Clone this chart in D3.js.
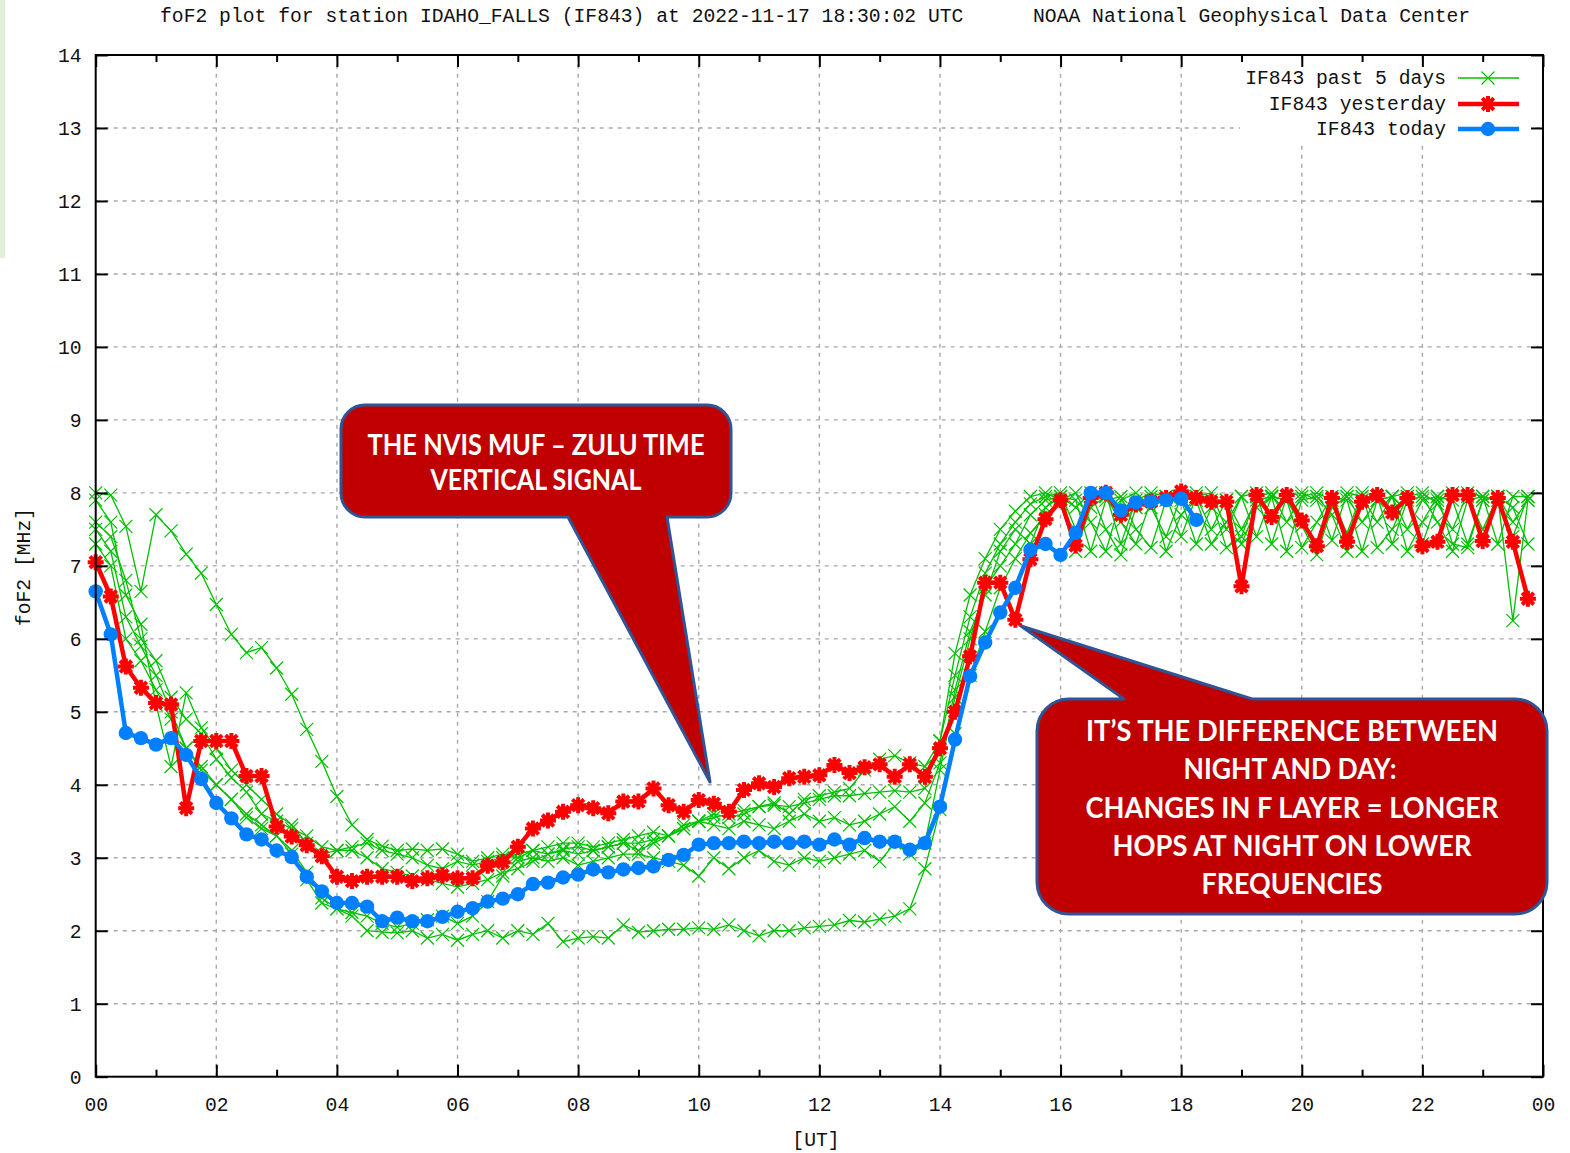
<!DOCTYPE html>
<html><head><meta charset="utf-8">
<script src="https://cdn.jsdelivr.net/npm/d3@7"></script>
<style>body{margin:0;background:#fff;overflow:hidden}</style>
</head><body>
<svg id="c" width="1570" height="1153"></svg>
<script>
// ---------- DATA (15-minute samples, hour = index * 0.25) ----------
const stepHours = 0.25;
const xTickLabels = ["00","02","04","06","08","10","12","14","16","18","20","22","00"];
const xTickHours = [0,2,4,6,8,10,12,14,16,18,20,22,24];
const yTickValues = [0,1,2,3,4,5,6,7,8,9,10,11,12,13,14];
const titleLeft = "foF2 plot for station IDAHO_FALLS (IF843) at 2022-11-17 18:30:02 UTC";
const titleRight = "NOAA National Geophysical Data Center";
const seriesNames = ["IF843 past 5 days","IF843 yesterday","IF843 today"];

const today = [
 6.65,6.06,4.71,4.64, 4.55,4.64,4.41,4.08, 3.75,3.54,3.32,3.25, 3.10,3.01,2.74,2.54,
 2.38,2.38,2.33,2.13, 2.18,2.13,2.13,2.19, 2.26,2.31,2.40,2.44, 2.50,2.64,2.66,2.73,
 2.77,2.84,2.80,2.84, 2.86,2.88,2.97,3.04, 3.18,3.20,3.20,3.22, 3.20,3.22,3.20,3.22,
 3.18,3.25,3.18,3.27, 3.22,3.22,3.11,3.20, 3.70,4.62,5.49,5.95, 6.36,6.70,7.22,7.30,
 7.15,7.45,8.00,8.00, 7.76,7.87,7.88,7.90, 7.92,7.63
];
const yesterday = [
 7.05,6.58,5.62,5.33, 5.12,5.10,3.68,4.60, 4.60,4.60,4.12,4.12, 3.43,3.29,3.17,3.02,
 2.74,2.68,2.74,2.74, 2.74,2.68,2.72,2.76, 2.72,2.72,2.89,2.94, 3.15,3.40,3.51,3.63,
 3.72,3.68,3.61,3.77, 3.77,3.95,3.72,3.63, 3.79,3.74,3.63,3.93, 4.02,3.97,4.09,4.11,
 4.13,4.27,4.16,4.24, 4.28,4.11,4.28,4.11, 4.50,5.00,5.76,6.77, 6.77,6.26,7.09,7.64,
 7.90,7.28,7.93,8.00, 7.70,7.84,7.88,7.93, 8.02,7.93,7.88,7.88, 6.72,7.97,7.67,7.97,
 7.62,7.27,7.93,7.33, 7.88,7.97,7.73,7.93, 7.27,7.33,7.97,7.97, 7.34,7.93,7.33,6.55
];
const pastDay1 = [
 8.00,7.97,7.54,6.65, 7.70,7.48,7.16,6.90, 6.47,6.06,5.81,5.88, 5.60,5.24,4.76,4.32,
 3.84,3.45,3.25,3.16, 3.10,3.12,3.10,3.12, 3.05,2.95,3.00,3.05, 3.00,3.10,3.05,3.12,
 3.15,3.10,3.15,3.20, 3.20,3.25,3.30,3.40, 3.50,3.55,3.60,3.65, 3.70,3.72,3.70,3.75,
 3.80,3.85,3.85,3.88, 3.90,3.92,3.90,3.95, 4.60,5.50,6.30,6.90, 7.30,7.60,7.85,7.95,
 8.00,7.50,7.95,8.00, 7.30,7.90,8.00,7.95, 7.40,7.95,8.00,7.50, 7.95,8.00,7.30,7.95,
 8.00,7.90,7.35,8.00, 7.95,7.60,7.95,8.00, 7.30,7.90,8.00,7.95, 7.50,7.95,6.25,7.90
];
const pastDay2 = [
 7.30,7.00,6.00,5.70, 5.30,4.90,4.50,4.25, 4.00,3.80,3.60,3.45, 3.30,3.05,2.70,2.38,
 2.30,2.20,2.00,1.98, 1.97,2.00,1.90,1.95, 1.87,1.95,2.00,1.90, 2.00,1.95,2.10,1.85,
 1.90,1.92,1.90,2.08, 1.98,2.00,2.02,2.02, 2.04,2.02,2.08,2.00, 1.93,2.00,2.00,2.04,
 2.06,2.08,2.14,2.12, 2.16,2.20,2.30,2.85, 3.66,4.70,5.50,6.10, 6.70,7.10,7.45,7.70,
 7.85,7.20,7.80,7.95, 7.60,7.30,7.90,7.95, 7.90,7.30,7.80,7.90, 7.50,7.90,7.95,7.20,
 7.90,7.95,7.70,7.20, 7.90,7.95,7.30,7.90, 7.95,7.60,7.20,7.90, 7.95,7.90,7.40,7.95
];
const pastDay3 = [
 7.50,7.20,6.30,5.90, 5.50,5.00,4.50,4.20, 4.00,3.80,3.55,3.40, 3.30,3.10,2.80,2.45,
 2.30,2.25,2.20,2.10, 2.05,2.10,2.15,2.20, 2.10,2.20,2.40,2.75, 2.95,3.00,2.95,3.00,
 2.90,2.95,3.00,3.05, 3.05,3.00,2.95,2.90, 2.75,3.00,2.85,3.00, 3.10,2.95,2.90,3.00,
 2.95,3.00,3.05,3.10, 2.95,3.20,3.05,3.20, 4.20,5.20,6.00,6.70, 7.00,7.30,7.70,7.90,
 7.95,7.90,7.20,7.90, 7.95,7.50,7.25,7.90, 7.95,7.90,7.30,7.60, 7.95,7.40,7.95,7.90,
 7.25,7.60,7.95,7.90, 7.20,7.90,7.95,7.50, 7.90,7.95,7.30,7.25, 7.90,7.95,7.80,7.30
];
const pastDay4 = [
 7.60,7.40,6.80,6.00, 5.70,5.20,4.90,4.70, 4.35,4.10,3.90,3.60, 3.50,3.40,3.30,3.15,
 3.10,3.15,3.20,3.10, 3.05,3.00,2.90,2.85, 2.95,2.90,2.95,3.00, 3.05,3.10,3.15,3.20,
 3.20,3.15,3.20,3.25, 3.30,3.35,3.30,3.45, 3.50,3.60,3.55,3.60, 3.70,3.75,3.60,3.80,
 3.85,3.90,3.95,4.20, 4.35,4.40,4.30,4.25, 4.60,5.80,6.60,7.10, 7.50,7.75,7.95,8.00,
 7.90,8.00,7.60,7.20, 7.90,8.00,7.80,7.40, 7.95,8.00,7.90,7.25, 7.40,7.95,8.00,7.60,
 7.95,8.00,7.90,7.45, 8.00,7.25,7.50,7.95, 8.00,7.85,7.50,8.00, 7.95,7.30,7.95,7.95
];
const pastDay5 = [
 7.90,7.60,6.60,6.20, 5.10,4.25,5.26,4.78, 4.50,4.20,4.00,3.80, 3.60,3.45,3.20,3.05,
 3.10,3.10,3.00,2.85, 2.80,2.75,2.70,2.65, 2.60,2.65,2.70,2.80, 2.85,2.95,3.05,3.10,
 3.05,3.10,3.15,3.20, 3.10,3.20,3.30,3.40, 3.50,3.45,3.40,3.50, 3.45,3.40,3.50,3.60,
 3.50,3.55,3.45,3.50, 3.60,3.70,3.50,3.75, 4.30,5.30,6.10,6.60, 7.20,7.50,7.30,7.80,
 7.95,7.80,8.00,7.50, 7.15,7.80,7.95,7.20, 7.70,7.95,7.50,7.90, 7.30,7.80,7.95,7.90,
 7.55,7.15,7.80,7.95, 7.60,7.90,7.95,7.20, 7.60,7.95,7.90,7.30, 7.90,7.95,7.60,7.90
];
const pastDays = [pastDay1, pastDay2, pastDay3, pastDay4, pastDay5];

// ---------- LAYOUT ----------
const svg = d3.select("#c");
const L = 95.7, R = 1543, T = 55, B = 1076.7;
const x = d3.scaleLinear().domain([0, 24]).range([L, R]);
const y = d3.scaleLinear().domain([0, 14]).range([B, T]);
const FONT = "'Liberation Mono', 'DejaVu Sans Mono', monospace";
const FS = 19.7;
const GREEN = "#00c000", RED = "#ff0000", BLUE = "#0080ff";

svg.append("rect").attr("width", 1570).attr("height", 1153).attr("fill", "#fff");
// pale green strip at the left edge
svg.append("rect").attr("x", 0).attr("y", 0).attr("width", 5).attr("height", 258).attr("fill", "#e2efda");

// grid
const grid = svg.append("g").attr("stroke", "#a8a8a8").attr("stroke-width", 1.4).attr("stroke-dasharray", "4,5");
grid.selectAll("line.v").data(d3.range(2, 24, 2)).join("line")
  .attr("x1", d => x(d)).attr("x2", d => x(d)).attr("y1", B).attr("y2", T);
grid.selectAll("line.h").data(d3.range(1, 14)).join("line")
  .attr("x1", L).attr("x2", R).attr("y1", d => y(d)).attr("y2", d => y(d));

// legend background (opaque key)
svg.append("rect").attr("x", 1240).attr("y", 64).attr("width", 292).attr("height", 78).attr("fill", "#fff");

// ---------- SERIES ----------
const toPts = arr => arr.map((v, i) => [i * stepHours, v]);
const line = d3.line().x(d => x(d[0])).y(d => y(d[1]));
const crossPath = "M-6.5,-6.5L6.5,6.5M-6.5,6.5L6.5,-6.5";
const starPath = "M-8,0H8M0,-8V8M-5.8,-5.8L5.8,5.8M-5.8,5.8L5.8,-5.8M-5,-3H5M-5,3H5M-3,-5V5M3,-5V5";

const gGreen = svg.append("g");
pastDays.forEach(arr => {
  const pts = toPts(arr);
  gGreen.append("path").attr("d", line(pts)).attr("fill", "none").attr("stroke", GREEN).attr("stroke-width", 1.3);
  gGreen.append("g").selectAll("path").data(pts).join("path")
    .attr("transform", d => `translate(${x(d[0])},${y(d[1])})`)
    .attr("d", crossPath).attr("stroke", GREEN).attr("stroke-width", 1.2).attr("fill", "none");
});

const redPts = toPts(yesterday);
const gRed = svg.append("g");
gRed.append("path").attr("d", line(redPts)).attr("fill", "none").attr("stroke", RED).attr("stroke-width", 4.5).attr("stroke-linejoin", "round");
gRed.selectAll("path.m").data(redPts).join("path").attr("class", "m")
  .attr("transform", d => `translate(${x(d[0])},${y(d[1])})`)
  .attr("d", starPath).attr("stroke", RED).attr("stroke-width", 4).attr("fill", "none");

const bluePts = toPts(today);
const gBlue = svg.append("g");
gBlue.append("path").attr("d", line(bluePts)).attr("fill", "none").attr("stroke", BLUE).attr("stroke-width", 4.5).attr("stroke-linejoin", "round");
gBlue.selectAll("circle").data(bluePts).join("circle")
  .attr("cx", d => x(d[0])).attr("cy", d => y(d[1])).attr("r", 7.2).attr("fill", BLUE);

// ---------- AXES ----------
function styleAxis(g) {
  g.select(".domain").remove();
  g.selectAll(".tick line").attr("stroke", "#000").attr("stroke-width", 2);
  g.selectAll("text").attr("font-family", FONT).attr("font-size", FS).attr("fill", "#111");
}
const labelOf = d3.scaleOrdinal().domain(xTickHours).range(xTickLabels);
svg.append("g").attr("transform", `translate(0,${B})`)
  .call(d3.axisBottom(x).tickValues(xTickHours).tickFormat(d => labelOf(d)).tickSizeInner(-12).tickSizeOuter(0).tickPadding(20))
  .call(styleAxis);
svg.append("g").attr("transform", `translate(0,${B})`)
  .call(d3.axisBottom(x).tickValues(d3.range(1, 24, 2)).tickFormat("").tickSizeInner(-7).tickSizeOuter(0))
  .call(styleAxis);
svg.append("g").attr("transform", `translate(0,${T})`)
  .call(d3.axisTop(x).tickValues(xTickHours).tickFormat("").tickSizeInner(-12).tickSizeOuter(0))
  .call(styleAxis);
svg.append("g").attr("transform", `translate(0,${T})`)
  .call(d3.axisTop(x).tickValues(d3.range(1, 24, 2)).tickFormat("").tickSizeInner(-7).tickSizeOuter(0))
  .call(styleAxis);
svg.append("g").attr("transform", `translate(${L},0)`)
  .call(d3.axisLeft(y).tickValues(yTickValues).tickFormat(d3.format("d")).tickSizeInner(-12).tickSizeOuter(0).tickPadding(14))
  .call(styleAxis);
svg.append("g").attr("transform", `translate(${R},0)`)
  .call(d3.axisRight(y).tickValues(yTickValues).tickFormat("").tickSizeInner(-12).tickSizeOuter(0))
  .call(styleAxis);

// frame
svg.append("rect").attr("x", L).attr("y", T).attr("width", R - L).attr("height", B - T)
  .attr("fill", "none").attr("stroke", "#000").attr("stroke-width", 2);

// titles
const txt = (s, px, py, anchor) => svg.append("text").text(s).attr("x", px).attr("y", py)
  .attr("font-family", FONT).attr("font-size", FS).attr("fill", "#111").attr("text-anchor", anchor || "start");
txt(titleLeft, 160, 22);
txt(titleRight, 1033, 22);
txt("[UT]", 816, 1146, "middle");
svg.append("text").text("foF2 [MHz]").attr("transform", "translate(30,567) rotate(-90)")
  .attr("font-family", FONT).attr("font-size", FS).attr("fill", "#111").attr("text-anchor", "middle");

// legend
const legY = [78, 104, 129];
seriesNames.forEach((n, i) => txt(n, 1446, legY[i] + 6, "end"));
svg.append("line").attr("x1", 1458).attr("x2", 1519).attr("y1", legY[0]).attr("y2", legY[0]).attr("stroke", GREEN).attr("stroke-width", 1.3);
svg.append("path").attr("transform", `translate(1488,${legY[0]})`).attr("d", crossPath).attr("stroke", GREEN).attr("stroke-width", 1.2);
svg.append("line").attr("x1", 1458).attr("x2", 1519).attr("y1", legY[1]).attr("y2", legY[1]).attr("stroke", RED).attr("stroke-width", 4.5);
svg.append("path").attr("transform", `translate(1488,${legY[1]})`).attr("d", starPath).attr("stroke", RED).attr("stroke-width", 4);
svg.append("line").attr("x1", 1458).attr("x2", 1519).attr("y1", legY[2]).attr("y2", legY[2]).attr("stroke", BLUE).attr("stroke-width", 4.5);
svg.append("circle").attr("cx", 1488).attr("cy", legY[2]).attr("r", 7.2).attr("fill", BLUE);

// ---------- CALLOUTS ----------
function calloutBottomTail(x0, y0, x1, y1, r, xa, xb, tx, ty) {
  return `M${x0 + r},${y0}H${x1 - r}A${r},${r} 0 0 1 ${x1},${y0 + r}V${y1 - r}A${r},${r} 0 0 1 ${x1 - r},${y1}` +
    `H${xb}L${tx},${ty}L${xa},${y1}H${x0 + r}A${r},${r} 0 0 1 ${x0},${y1 - r}V${y0 + r}A${r},${r} 0 0 1 ${x0 + r},${y0}Z`;
}
function calloutTopTail(x0, y0, x1, y1, r, xa, xb, tx, ty) {
  return `M${x0 + r},${y0}H${xa}L${tx},${ty}L${xb},${y0}H${x1 - r}A${r},${r} 0 0 1 ${x1},${y0 + r}V${y1 - r}A${r},${r} 0 0 1 ${x1 - r},${y1}` +
    `H${x0 + r}A${r},${r} 0 0 1 ${x0},${y1 - r}V${y0 + r}A${r},${r} 0 0 1 ${x0 + r},${y0}Z`;
}
const CFILL = "#c00000", CSTROKE = "#2f5597";
svg.append("path").attr("d", calloutBottomTail(341, 405, 731, 517, 24, 568, 667, 710, 782))
  .attr("fill", CFILL).attr("stroke", CSTROKE).attr("stroke-width", 3).attr("stroke-linejoin", "round");
svg.append("path").attr("d", calloutTopTail(1037, 699, 1547, 914, 32, 1124, 1252, 1021, 626))
  .attr("fill", CFILL).attr("stroke", CSTROKE).attr("stroke-width", 3).attr("stroke-linejoin", "round");

const CFONT = "Lato, 'Open Sans', sans-serif";
function ctext(s, cx, cy, w) {
  svg.append("text").text(s).attr("x", cx).attr("y", cy + 10)
    .attr("text-anchor", "middle").attr("font-family", CFONT).attr("font-weight", 700)
    .attr("font-size", 28).attr("fill", "#fff")
    .attr("textLength", w).attr("lengthAdjust", "spacingAndGlyphs");
}
ctext("THE NVIS MUF \u2013 ZULU TIME", 536, 445, 337);
ctext("VERTICAL SIGNAL", 536, 480, 211);
ctext("IT\u2019S THE DIFFERENCE BETWEEN", 1292, 731, 412);
ctext("NIGHT AND DAY:", 1290, 769, 213);
ctext("CHANGES IN F LAYER = LONGER", 1292, 808, 413);
ctext("HOPS AT NIGHT ON LOWER", 1292, 846, 359);
ctext("FREQUENCIES", 1292, 884, 181);
</script>
</body></html>
